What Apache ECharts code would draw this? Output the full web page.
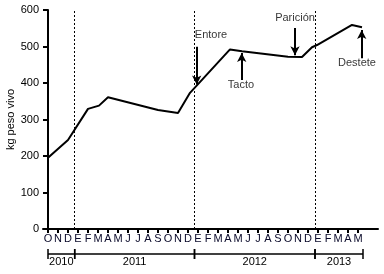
<!DOCTYPE html>
<html>
<head>
<meta charset="utf-8">
<script src="https://cdn.jsdelivr.net/npm/echarts@6/dist/echarts.min.js"></script>
<style>
html,body{margin:0;padding:0;background:#fff;}
#chart{width:384px;height:274px;}
</style>
</head>
<body>
<div id="chart"></div>
<script>
// Month tick labels (Oct 2010 .. May 2013), index 0 = Oct 2010
var monthLabels = ['O','N','D','E','F','M','A','M','J','J','A','S','O','N','D','E','F','M','A','M','J','J','A','S','O','N','D','E','F','M','A','M'];
// Live weight series (x in months from Oct 2010, y in kg)
var weightMonth = [0.0, 2.0, 4.0, 5.1, 6.0, 11.0, 13.0, 14.2, 18.2, 19.4, 24.0, 25.4, 26.4, 26.9, 30.4, 31.4];
var weightKg    = [195, 244, 329, 338, 361, 326, 318, 373, 492, 487, 472, 471, 498, 504, 559, 553];
// Year separators (dotted lines) and year brackets
var yearBreaks = [2.67, 14.65, 26.7];
var yearNames  = ['2010', '2011', '2012', '2013'];
var yearStart  = [0, 2.67, 14.65, 26.7];
var yearEnd    = [2.67, 14.65, 26.7, 31.5];
// Event annotations: arrow at month, from value, to value; label position
var eventNames   = ['Entore', 'Tacto', 'Parición', 'Destete'];
var eventMonth   = [14.87, 19.37, 24.7, 31.37];
var eventFrom    = [499, 408, 551, 468];
var eventTo      = [396, 482, 476, 545];
var eventLabelX  = [16.3, 19.3, 24.7, 30.9];
var eventLabelY  = [531, 394, 578, 455];

var FONT = 'Liberation Sans, Arial, sans-serif';
var chart = echarts.init(document.getElementById('chart'), null, {renderer: 'canvas'});

var tickValues = monthLabels.map(function (_, i) { return i; });

var option = {
  animation: false,
  grid: {left: 43, right: 6, top: 10, bottom: 45, containLabel: false, outerBoundsMode: 'none'},
  xAxis: {
    type: 'value', min: -0.5, max: 33,
    axisLine: {show: true, lineStyle: {color: '#000', width: 2}},
    axisTick: {show: true, length: 4, lineStyle: {color: '#000', width: 2}, customValues: tickValues},
    axisLabel: {
      show: true, color: '#0a0a2a', fontFamily: FONT, fontSize: 11, margin: 4,
      customValues: tickValues,
      formatter: function (v) { return monthLabels[Math.round(v)] || ''; }
    },
    splitLine: {show: false}
  },
  yAxis: {
    type: 'value', min: 0, max: 600, interval: 100,
    name: 'kg peso vivo', nameLocation: 'middle', nameGap: 27, nameMoveOverlap: false,
    nameTextStyle: {fontFamily: FONT, fontSize: 11, color: '#000'},
    axisLine: {show: true, lineStyle: {color: '#000', width: 2}},
    axisTick: {show: true, length: 5, lineStyle: {color: '#000', width: 2}},
    axisLabel: {color: '#000', fontFamily: FONT, fontSize: 11, margin: 4},
    splitLine: {show: false}
  },
  series: [
    {
      type: 'line',
      data: weightMonth.map(function (m, i) { return [m, weightKg[i]]; }),
      showSymbol: false, symbol: 'none',
      lineStyle: {color: '#000', width: 2},
      z: 5,
      markLine: {
        silent: true, symbol: ['none', 'none'],
        lineStyle: {color: '#000', width: 1, type: [2, 2]},
        label: {show: false},
        data: yearBreaks.map(function (x) { return {xAxis: x}; })
      }
    },
    {
      type: 'line', data: [],
      markLine: {
        silent: true, symbol: ['none', 'arrow'], symbolSize: [7, 9],
        lineStyle: {color: '#000', width: 2, type: 'solid'},
        label: {show: false},
        data: eventMonth.map(function (m, i) {
          return [{coord: [m, eventFrom[i]]}, {coord: [m, eventTo[i]]}];
        })
      }
    },
    {
      type: 'scatter', symbolSize: 0,
      data: eventLabelX.map(function (x, i) { return {value: [x, eventLabelY[i]], name: eventNames[i]}; }),
      label: {
        show: true, position: 'inside', formatter: function (p) { return p.name; },
        color: '#000', fontFamily: FONT, fontSize: 11
      },
      silent: true
    },
    {
      type: 'custom', clip: false, silent: true,
      data: yearNames.map(function (n, i) { return [yearStart[i], yearEnd[i]]; }),
      renderItem: function (params, api) {
        var p1 = api.coord([api.value(0), 0]);
        var p2 = api.coord([api.value(1), 0]);
        var y = p1[1] + 25;
        var st = {stroke: '#000', lineWidth: 1.5};
        return {
          type: 'group',
          children: [
            {type: 'line', shape: {x1: p1[0], y1: y, x2: p2[0], y2: y}, style: st},
            {type: 'line', shape: {x1: p1[0], y1: y - 5, x2: p1[0], y2: y + 5}, style: st},
            {type: 'line', shape: {x1: p2[0], y1: y - 5, x2: p2[0], y2: y + 5}, style: st},
            {type: 'text', style: {
              text: yearNames[params.dataIndex], x: (p1[0] + p2[0]) / 2, y: y + 8,
              textAlign: 'center', textVerticalAlign: 'middle',
              font: '11px ' + FONT, fill: '#000'
            }}
          ]
        };
      }
    }
  ]
};
chart.setOption(option);
</script>
</body>
</html>
